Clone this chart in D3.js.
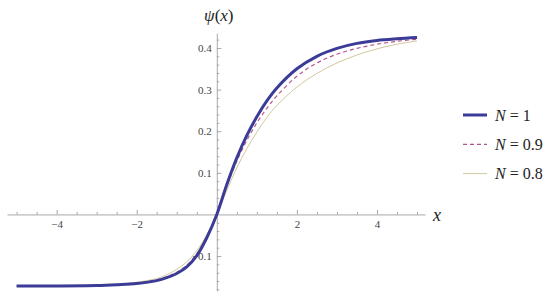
<!DOCTYPE html>
<html>
<head>
<meta charset="utf-8">
<script src="https://cdn.jsdelivr.net/npm/d3@7"></script>
<style>
  body { margin: 0; background: #fff; }
</style>
</head>
<body>
<svg id="chart" width="550" height="302"></svg>
<script>
// x grid shared by all three curves
const xs = [-5, -4, -3, -2.5, -2, -1.5, -1.25, -1, -0.75, -0.5, -0.25, 0,
            0.25, 0.5, 0.75, 1, 1.25, 1.5, 2, 2.5, 3, 3.5, 4, 4.5, 5];

// psi(x) values
const psiN10 = [-0.172, -0.172, -0.171, -0.169, -0.166, -0.159, -0.152, -0.142, -0.126, -0.099, -0.056, 0,
                0.072, 0.136, 0.190, 0.235, 0.273, 0.304, 0.350, 0.380, 0.399, 0.411, 0.418, 0.422, 0.425];
const psiN09 = [-0.172, -0.172, -0.171, -0.169, -0.165, -0.157, -0.150, -0.139, -0.122, -0.095, -0.054, 0,
                0.068, 0.128, 0.178, 0.220, 0.255, 0.285, 0.332, 0.364, 0.385, 0.399, 0.409, 0.416, 0.421];
const psiN08 = [-0.172, -0.172, -0.171, -0.168, -0.163, -0.154, -0.145, -0.132, -0.114, -0.087, -0.049, 0,
                0.058, 0.112, 0.158, 0.198, 0.233, 0.262, 0.306, 0.339, 0.364, 0.383, 0.398, 0.409, 0.417];

const seriesNames = ['N = 1', 'N = 0.9', 'N = 0.8'];
const seriesValues = [psiN10, psiN09, psiN08];

const xMajor = [-4, -2, 2, 4];
const yMajor = [-0.1, 0.1, 0.2, 0.3, 0.4];

const styles = [
  { color: '#3b3b98', width: 3, dash: null },
  { color: '#b5558d', width: 1.2, dash: '4,3' },
  { color: '#d2c79c', width: 1, dash: null }
];

const serif = "'Liberation Serif', 'Times New Roman', Times, 'DejaVu Serif', serif";
const axisGrey = '#a8a8a8';

const svg = d3.select('#chart');

const x = d3.scaleLinear().domain([-5.24, 5.2]).range([7, 425]);
const y = d3.scaleLinear().domain([-0.184, 0.436]).range([291, 33]);

const fmt = d => d3.format('.1f')(d).replace('-', '\u2212');

// grey lines and serif labels on an axis group
function styleAxis(g) {
  g.selectAll('line, path').style('stroke', axisGrey);
  g.selectAll('text')
    .style('font-family', serif)
    .style('font-size', '11px')
    .style('fill', '#444');
}

// minor ticks
const xMinor = d3.range(-5, 5.01, 0.5).filter(v => v !== 0 && !xMajor.includes(v));
const yMinor = d3.range(-0.18, 0.4301, 0.02).map(v => +v.toFixed(2))
  .filter(v => v !== 0 && !yMajor.some(m => Math.abs(m - v) < 1e-9));

svg.append('g')
  .attr('transform', `translate(0,${y(0)})`)
  .call(d3.axisBottom(x).tickValues(xMinor).tickSize(-2.5).tickSizeOuter(0).tickFormat(''))
  .call(g => g.select('.domain').remove())
  .call(styleAxis);

svg.append('g')
  .attr('transform', `translate(0,${y(0)})`)
  .call(d3.axisBottom(x).tickValues(xMajor).tickSize(-4.5).tickSizeOuter(0).tickPadding(6)
    .tickFormat(d => String(d).replace('-', '\u2212')))
  .call(styleAxis);

svg.append('g')
  .attr('transform', `translate(${x(0)},0)`)
  .call(d3.axisLeft(y).tickValues(yMinor).tickSize(-2.5).tickSizeOuter(0).tickFormat(''))
  .call(g => g.select('.domain').remove())
  .call(styleAxis);

svg.append('g')
  .attr('transform', `translate(${x(0)},0)`)
  .call(d3.axisLeft(y).tickValues(yMajor).tickSize(-4.5).tickSizeOuter(0).tickPadding(5).tickFormat(fmt))
  .call(styleAxis);

// curves, thinnest on the bottom
const line = d3.line()
  .x((d, i) => x(xs[i]))
  .y(d => y(d))
  .curve(d3.curveCatmullRom.alpha(0.5));

[2, 1, 0].forEach(k => {
  svg.append('path')
    .datum(seriesValues[k])
    .attr('fill', 'none')
    .attr('stroke', styles[k].color)
    .attr('stroke-width', styles[k].width)
    .attr('stroke-dasharray', styles[k].dash)
    .attr('d', line);
});

// axis labels
const psiLabel = svg.append('text')
  .attr('x', x(0) + 2).attr('y', 21)
  .attr('text-anchor', 'middle')
  .style('font-family', serif)
  .style('font-size', '17px')
  .style('fill', '#222');
psiLabel.append('tspan').style('font-style', 'italic').text('\u03C8');
psiLabel.append('tspan').text('(');
psiLabel.append('tspan').style('font-style', 'italic').text('x');
psiLabel.append('tspan').text(')');

svg.append('text')
  .attr('x', 433).attr('y', 221)
  .style('font-family', serif)
  .style('font-size', '18px')
  .style('font-style', 'italic')
  .style('fill', '#222')
  .text('x');

// legend
const legend = svg.append('g');
seriesNames.forEach((name, i) => {
  const cy = 115 + i * 29.3;
  legend.append('line')
    .attr('x1', 463).attr('x2', 487)
    .attr('y1', cy).attr('y2', cy)
    .attr('stroke', styles[i].color)
    .attr('stroke-width', styles[i].width)
    .attr('stroke-dasharray', styles[i].dash);
  const t = legend.append('text')
    .attr('x', 495).attr('y', cy + 5.5)
    .style('font-family', serif)
    .style('font-size', '16px')
    .style('fill', '#222');
  t.append('tspan').style('font-style', 'italic').text('N');
  t.append('tspan').text(name.slice(1));
});
</script>
</body>
</html>
